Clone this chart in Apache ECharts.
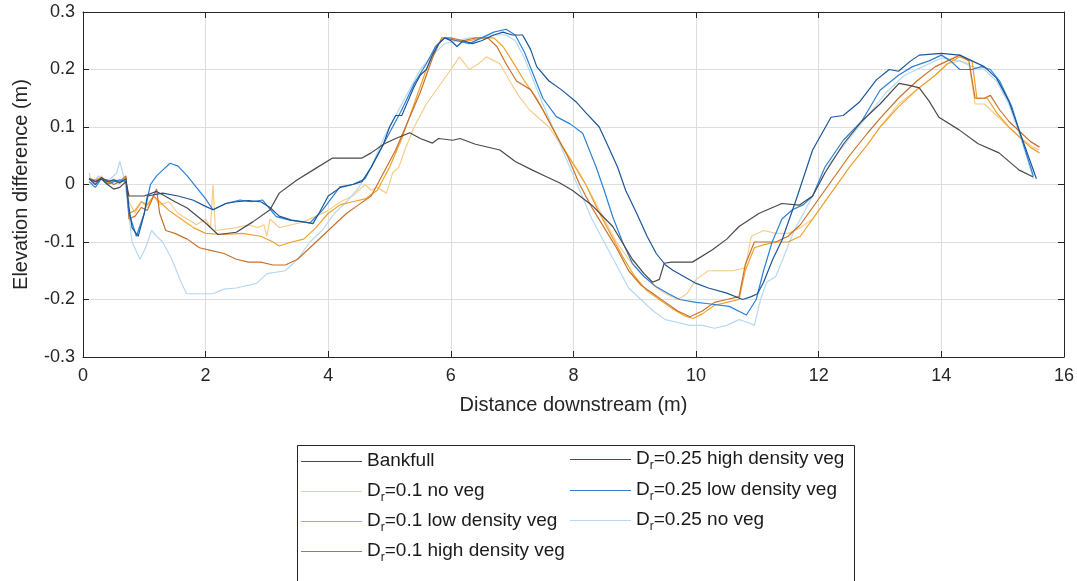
<!DOCTYPE html>
<html><head><meta charset="utf-8">
<script src="https://cdn.jsdelivr.net/npm/echarts@6/dist/echarts.min.js"></script>
<style>html,body{margin:0;padding:0;background:#fff}#c{width:1077px;height:581px}</style>
</head><body><div id="c"></div>
<script>
const seriesNames = ['Bankfull','D_r=0.1 no veg','D_r=0.1 low density veg','D_r=0.1 high density veg','D_r=0.25 high density veg','D_r=0.25 low density veg','D_r=0.25 no veg'];
const xTicks = [0,2,4,6,8,10,12,14,16];
const yTicks = [-0.3,-0.2,-0.1,0,0.1,0.2,0.3];

const bankfull = [[0.1,0.01],[0.2,0.005],[0.3,0.01],[0.4,0.0],[0.5,-0.008],[0.6,-0.005],[0.7,0.005],[0.75,-0.02],[1.0,-0.02],[1.2,-0.012],[1.3,-0.018],[1.5,-0.03],[1.7,-0.041],[2.0,-0.067],[2.2,-0.087],[2.5,-0.083],[2.77,-0.065],[3.05,-0.044],[3.2,-0.015],[3.49,0.008],[3.75,0.025],[4.07,0.046],[4.3,0.046],[4.55,0.046],[4.7,0.055],[4.9,0.07],[5.1,0.08],[5.33,0.09],[5.5,0.08],[5.7,0.072],[5.8,0.08],[6.03,0.077],[6.15,0.08],[6.4,0.07],[6.8,0.06],[7.05,0.04],[7.33,0.025],[7.55,0.014],[7.77,0.003],[7.98,-0.01],[8.3,-0.036],[8.64,-0.073],[8.96,-0.13],[9.15,-0.155],[9.29,-0.17],[9.4,-0.165],[9.48,-0.137],[9.6,-0.135],[9.94,-0.135],[10.26,-0.114],[10.5,-0.095],[10.7,-0.073],[11.03,-0.05],[11.4,-0.033],[11.68,-0.036],[11.9,-0.02],[12.1,0.02],[12.4,0.07],[12.7,0.11],[13.0,0.14],[13.31,0.176],[13.5,0.172],[13.64,0.168],[13.8,0.145],[13.96,0.117],[14.29,0.095],[14.6,0.071],[14.94,0.055],[15.27,0.025],[15.5,0.013]];

const dr01NoVeg = [[0.1,0.012],[0.2,0.005],[0.3,0.015],[0.4,0.0],[0.5,0.01],[0.6,0.005],[0.7,0.01],[0.75,-0.03],[0.85,-0.05],[0.95,-0.03],[1.05,-0.04],[1.15,-0.02],[1.25,-0.035],[1.4,-0.03],[1.55,-0.05],[1.7,-0.06],[1.85,-0.07],[2.0,-0.06],[2.08,-0.075],[2.12,0.0],[2.16,-0.08],[2.3,-0.078],[2.5,-0.075],[2.7,-0.07],[2.85,-0.075],[2.95,-0.07],[3.0,-0.09],[3.05,-0.06],[3.2,-0.075],[3.4,-0.07],[3.6,-0.065],[3.8,-0.055],[4.0,-0.045],[4.2,-0.03],[4.4,-0.02],[4.6,0.0],[4.7,-0.01],[4.8,-0.005],[4.95,-0.015],[5.05,0.02],[5.15,0.03],[5.25,0.06],[5.4,0.1],[5.6,0.14],[5.8,0.17],[6.0,0.2],[6.14,0.222],[6.3,0.2],[6.45,0.21],[6.58,0.222],[6.8,0.21],[6.96,0.18],[7.1,0.155],[7.28,0.13],[7.6,0.1],[7.88,0.055],[8.1,0.02],[8.3,-0.02],[8.5,-0.06],[8.7,-0.1],[8.9,-0.13],[9.1,-0.155],[9.3,-0.175],[9.5,-0.19],[9.7,-0.2],[9.85,-0.19],[10.0,-0.165],[10.2,-0.15],[10.4,-0.15],[10.6,-0.15],[10.8,-0.145],[10.9,-0.09],[11.1,-0.08],[11.3,-0.085],[11.5,-0.085],[11.7,-0.075],[11.9,-0.06],[12.1,-0.03],[12.3,0.0],[12.5,0.03],[12.8,0.07],[13.0,0.1],[13.3,0.14],[13.6,0.165],[13.9,0.19],[14.1,0.21],[14.3,0.215],[14.45,0.21],[14.55,0.14],[14.7,0.14],[14.9,0.12],[15.1,0.1],[15.3,0.08],[15.5,0.065],[15.6,0.06]];

const dr01Low = [[0.1,0.01],[0.2,0.008],[0.3,0.012],[0.4,0.003],[0.5,0.006],[0.6,0.002],[0.7,0.012],[0.75,-0.05],[0.85,-0.045],[0.95,-0.03],[1.05,-0.035],[1.15,-0.02],[1.25,-0.03],[1.4,-0.045],[1.6,-0.06],[1.8,-0.075],[2.0,-0.085],[2.3,-0.087],[2.6,-0.085],[2.9,-0.09],[3.1,-0.1],[3.2,-0.107],[3.4,-0.1],[3.6,-0.095],[3.8,-0.075],[4.0,-0.05],[4.2,-0.035],[4.4,-0.03],[4.6,-0.025],[4.8,-0.01],[5.0,0.03],[5.2,0.08],[5.4,0.14],[5.6,0.2],[5.75,0.24],[5.9,0.255],[6.1,0.25],[6.3,0.25],[6.5,0.255],[6.7,0.255],[6.85,0.24],[7.0,0.215],[7.2,0.18],[7.4,0.15],[7.6,0.11],[7.8,0.07],[8.0,0.035],[8.2,0.0],[8.4,-0.045],[8.6,-0.085],[8.8,-0.125],[9.0,-0.16],[9.2,-0.185],[9.4,-0.2],[9.6,-0.215],[9.8,-0.228],[9.95,-0.233],[10.1,-0.225],[10.3,-0.21],[10.5,-0.205],[10.7,-0.2],[10.8,-0.15],[10.95,-0.11],[11.1,-0.105],[11.3,-0.1],[11.5,-0.1],[11.7,-0.09],[11.9,-0.06],[12.1,-0.03],[12.3,0.0],[12.5,0.03],[12.8,0.07],[13.0,0.1],[13.3,0.135],[13.6,0.165],[13.9,0.19],[14.1,0.21],[14.3,0.222],[14.5,0.215],[14.58,0.15],[14.75,0.15],[14.9,0.125],[15.1,0.1],[15.3,0.08],[15.45,0.065],[15.6,0.055]];

const dr01High = [[0.1,0.01],[0.2,0.005],[0.3,0.01],[0.4,0.008],[0.5,0.0],[0.6,0.005],[0.7,0.015],[0.75,-0.06],[0.85,-0.055],[0.95,-0.04],[1.05,-0.045],[1.15,-0.02],[1.2,-0.008],[1.25,-0.05],[1.35,-0.08],[1.5,-0.085],[1.7,-0.095],[1.9,-0.11],[2.1,-0.115],[2.3,-0.12],[2.5,-0.13],[2.7,-0.135],[2.9,-0.135],[3.1,-0.14],[3.3,-0.14],[3.5,-0.13],[3.7,-0.11],[3.9,-0.09],[4.1,-0.07],[4.3,-0.05],[4.5,-0.035],[4.7,-0.02],[4.9,0.02],[5.1,0.06],[5.3,0.11],[5.5,0.16],[5.7,0.22],[5.85,0.255],[6.0,0.255],[6.2,0.25],[6.4,0.255],[6.6,0.255],[6.75,0.24],[6.9,0.21],[7.07,0.18],[7.3,0.165],[7.5,0.13],[7.7,0.09],[7.9,0.05],[8.1,0.0],[8.3,-0.04],[8.5,-0.075],[8.7,-0.11],[8.9,-0.15],[9.1,-0.175],[9.3,-0.19],[9.5,-0.205],[9.7,-0.22],[9.9,-0.23],[10.1,-0.22],[10.3,-0.205],[10.5,-0.2],[10.7,-0.195],[10.8,-0.14],[10.95,-0.1],[11.1,-0.1],[11.3,-0.1],[11.5,-0.09],[11.7,-0.07],[11.9,-0.04],[12.1,-0.01],[12.3,0.02],[12.5,0.05],[12.8,0.09],[13.0,0.115],[13.3,0.15],[13.6,0.18],[13.9,0.205],[14.1,0.215],[14.3,0.225],[14.45,0.215],[14.55,0.15],[14.7,0.15],[14.8,0.155],[14.95,0.13],[15.1,0.11],[15.3,0.09],[15.45,0.075],[15.6,0.065]];

const dr025High = [[0.1,0.01],[0.2,0.0],[0.3,0.012],[0.4,0.005],[0.5,0.008],[0.6,0.003],[0.7,0.01],[0.75,-0.04],[0.8,-0.075],[0.9,-0.09],[1.0,-0.05],[1.05,-0.02],[1.3,-0.015],[1.55,-0.02],[1.79,-0.027],[2.0,-0.038],[2.12,-0.044],[2.33,-0.033],[2.5,-0.03],[2.7,-0.028],[2.9,-0.03],[3.05,-0.04],[3.2,-0.055],[3.4,-0.062],[3.6,-0.065],[3.75,-0.068],[3.85,-0.05],[4.0,-0.02],[4.2,-0.005],[4.4,0.0],[4.55,0.005],[4.7,0.03],[4.9,0.07],[5.0,0.1],[5.1,0.12],[5.2,0.12],[5.3,0.145],[5.4,0.17],[5.5,0.19],[5.6,0.2],[5.7,0.225],[5.8,0.245],[5.9,0.255],[6.0,0.25],[6.1,0.24],[6.2,0.25],[6.35,0.245],[6.5,0.25],[6.7,0.26],[6.85,0.265],[7.0,0.26],[7.17,0.26],[7.3,0.235],[7.4,0.205],[7.6,0.18],[7.8,0.165],[8.05,0.143],[8.2,0.125],[8.42,0.1],[8.55,0.07],[8.72,0.03],[8.85,-0.01],[9.03,-0.05],[9.2,-0.09],[9.35,-0.12],[9.5,-0.14],[9.62,-0.149],[9.8,-0.16],[10.0,-0.172],[10.2,-0.18],[10.5,-0.189],[10.76,-0.2],[10.9,-0.195],[11.0,-0.19],[11.1,-0.17],[11.25,-0.13],[11.4,-0.097],[11.63,-0.027],[11.9,0.06],[12.2,0.117],[12.4,0.12],[12.66,0.143],[12.94,0.182],[13.15,0.2],[13.3,0.197],[13.5,0.215],[13.64,0.225],[14.0,0.228],[14.3,0.225],[14.5,0.215],[14.7,0.205],[14.9,0.185],[15.1,0.145],[15.3,0.085],[15.45,0.04],[15.55,0.01]];

const dr025Low = [[0.1,0.005],[0.2,-0.005],[0.3,0.01],[0.4,0.0],[0.5,0.005],[0.6,0.008],[0.7,0.005],[0.75,-0.05],[0.87,-0.09],[1.0,-0.05],[1.1,0.0],[1.2,0.015],[1.3,0.025],[1.42,0.037],[1.55,0.032],[1.7,0.015],[1.85,-0.005],[2.0,-0.025],[2.12,-0.044],[2.33,-0.033],[2.56,-0.027],[2.75,-0.03],[2.93,-0.027],[3.15,-0.056],[3.37,-0.062],[3.7,-0.067],[3.91,-0.044],[4.19,-0.004],[4.4,0.0],[4.6,0.01],[4.8,0.05],[5.0,0.09],[5.2,0.13],[5.4,0.175],[5.6,0.21],[5.75,0.24],[5.9,0.255],[6.1,0.25],[6.3,0.245],[6.5,0.255],[6.7,0.265],[6.9,0.27],[7.05,0.26],[7.2,0.23],[7.35,0.19],[7.5,0.15],[7.72,0.118],[7.95,0.105],[8.15,0.089],[8.37,0.03],[8.5,-0.01],[8.64,-0.056],[8.8,-0.1],[8.96,-0.137],[9.15,-0.16],[9.35,-0.178],[9.55,-0.19],[9.73,-0.2],[10.0,-0.205],[10.17,-0.207],[10.54,-0.212],[10.82,-0.227],[10.98,-0.2],[11.1,-0.15],[11.24,-0.1],[11.4,-0.06],[11.57,-0.044],[11.75,-0.035],[11.9,-0.02],[12.1,0.03],[12.4,0.077],[12.7,0.11],[13.0,0.164],[13.3,0.19],[13.53,0.205],[13.8,0.215],[14.0,0.225],[14.15,0.215],[14.3,0.2],[14.5,0.2],[14.65,0.205],[14.8,0.2],[14.95,0.18],[15.15,0.135],[15.3,0.083],[15.5,0.015]];

const dr025NoVeg = [[0.1,0.02],[0.15,0.0],[0.25,0.015],[0.35,0.005],[0.45,0.01],[0.55,0.02],[0.6,0.04],[0.65,0.02],[0.7,-0.01],[0.8,-0.1],[0.93,-0.13],[1.02,-0.11],[1.12,-0.08],[1.2,-0.09],[1.3,-0.1],[1.45,-0.13],[1.6,-0.17],[1.69,-0.19],[1.9,-0.19],[2.12,-0.19],[2.3,-0.182],[2.5,-0.18],[2.83,-0.172],[3.0,-0.155],[3.3,-0.15],[3.5,-0.13],[3.7,-0.1],[3.9,-0.08],[4.1,-0.05],[4.3,-0.03],[4.5,-0.005],[4.7,0.03],[4.9,0.08],[5.1,0.12],[5.3,0.16],[5.5,0.2],[5.7,0.225],[5.9,0.245],[6.1,0.25],[6.3,0.255],[6.5,0.255],[6.7,0.26],[6.9,0.26],[7.05,0.25],[7.2,0.22],[7.35,0.18],[7.5,0.14],[7.7,0.09],[7.9,0.04],[8.1,-0.01],[8.3,-0.06],[8.5,-0.1],[8.7,-0.14],[8.9,-0.18],[9.1,-0.2],[9.3,-0.22],[9.5,-0.235],[9.7,-0.24],[9.9,-0.245],[10.1,-0.245],[10.3,-0.25],[10.5,-0.245],[10.7,-0.235],[10.85,-0.24],[10.95,-0.245],[11.05,-0.2],[11.15,-0.17],[11.3,-0.16],[11.45,-0.12],[11.6,-0.08],[11.8,-0.04],[12.0,0.0],[12.2,0.04],[12.5,0.08],[12.8,0.12],[13.1,0.16],[13.4,0.19],[13.7,0.205],[14.0,0.22],[14.3,0.215],[14.5,0.205],[14.7,0.2],[14.9,0.18],[15.1,0.14],[15.3,0.08],[15.5,0.01]];

const seriesData = [bankfull, dr01NoVeg, dr01Low, dr01High, dr025High, dr025Low, dr025NoVeg];
const colors = ['#4a4a4a','#f8cc8c','#eea229','#c8712c','#1c5698','#2c80d6','#b6d8f3'];
const zOrder = [7,1,3,4,6,5,2];

const FONT = '"Liberation Sans", Arial, sans-serif';
const chart = echarts.init(document.getElementById('c'), null, {renderer:'canvas'});

function legendText(name){
  if (name.indexOf('D_r') === 0) return '{t|D}{s|r}{t|' + name.slice(3) + '}';
  return '{t|' + name + '}';
}
const legendRich = {
  t: {fontSize: 19, fontFamily: FONT, fill: '#1a1a1a', color: '#1a1a1a', lineHeight: 26, verticalAlign: 'middle'},
  s: {fontSize: 12, fontFamily: FONT, fill: '#1a1a1a', color: '#1a1a1a', lineHeight: 11, verticalAlign: 'bottom'}
};
// legend layout: column-major, 4 rows in first column
const legendCols = [{x: 301, rows: [461, 491, 521, 551]}, {x: 570, rows: [459, 490, 520]}];
const legendGraphics = [{type: 'rect', left: 295, top: 443, shape: {width: 557, height: 150},
  style: {fill: 'none', stroke: '#262626', lineWidth: 1}, silent: true}];
seriesNames.forEach((n, i) => {
  const col = i < 4 ? legendCols[0] : legendCols[1];
  const y = col.rows[i < 4 ? i : i - 4];
  legendGraphics.push({type: 'line', silent: true,
    shape: {x1: col.x, y1: y + 0.5, x2: col.x + 61, y2: y + 0.5},
    style: {stroke: colors[i], lineWidth: 1.2}});
  legendGraphics.push({type: 'text', silent: true, x: col.x + 66, y: y,
    style: {text: legendText(n), rich: legendRich, verticalAlign: 'middle', align: 'left',
      fontSize: 19, fontFamily: FONT, fill: '#1a1a1a'}});
});

const axisCommon = {
  axisLine: {show: true, onZero: false, lineStyle: {color: '#262626', width: 1}},
  axisTick: {show: true, inside: true, length: 6, lineStyle: {color: '#262626'}},
};

chart.setOption({
  animation: false,
  backgroundColor: '#fff',
  grid: {left: 83, right: 12, top: 12, bottom: 224, containLabel: false},
  xAxis: [
    Object.assign({type: 'value', min: 0, max: 16, interval: 2, position: 'bottom',
      name: 'Distance downstream (m)', nameLocation: 'middle', nameGap: 38,
      nameTextStyle: {fontSize: 20, fontFamily: FONT, color: '#262626'},
      axisLabel: {fontSize: 18, fontFamily: FONT, color: '#262626', margin: 10},
      splitLine: {show: true, lineStyle: {color: '#dedede', width: 1}}}, axisCommon),
    Object.assign({type: 'value', min: 0, max: 16, interval: 2, position: 'top',
      axisLabel: {show: false}, splitLine: {show: false}}, axisCommon)
  ],
  yAxis: [
    Object.assign({type: 'value', min: -0.3, max: 0.3, interval: 0.1, position: 'left',
      name: 'Elevation difference (m)', nameLocation: 'middle', nameGap: 52,
      nameTextStyle: {fontSize: 20, fontFamily: FONT, color: '#262626'},
      axisLabel: {fontSize: 18, fontFamily: FONT, color: '#262626', margin: 8,
        formatter: v => String(+v.toFixed(1))},
      splitLine: {show: true, lineStyle: {color: '#dedede', width: 1}}}, axisCommon),
    Object.assign({type: 'value', min: -0.3, max: 0.3, interval: 0.1, position: 'right',
      axisLabel: {show: false}, splitLine: {show: false}}, axisCommon)
  ],
  graphic: legendGraphics,
  series: seriesNames.map((n, i) => ({
    name: n, type: 'line', data: seriesData[i], showSymbol: false, symbol: 'none',
    color: colors[i], z: zOrder[i], itemStyle: {color: colors[i]},
    lineStyle: {width: 1.2, color: colors[i]}, emphasis: {disabled: true}
  }))
});
</script></body></html>
